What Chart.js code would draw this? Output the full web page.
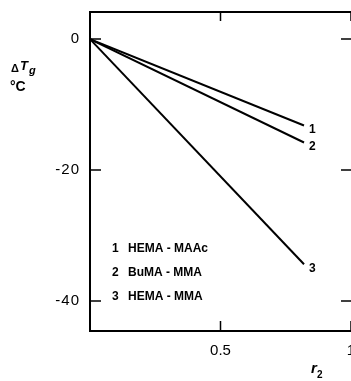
<!DOCTYPE html>
<html>
<head>
<meta charset="utf-8">
<script src="https://cdn.jsdelivr.net/npm/chart.js@4"></script>
<style>
  html, body { margin: 0; padding: 0; background: #fff; }
  #wrap { width: 351px; height: 381px; }
</style>
</head>
<body>
<div id="wrap"><canvas id="chart" width="351" height="381"></canvas></div>
<script>
// values
const xValues = [0, 0.82];
const hemaMaac = [0, -13.2];   // curve 1
const bumaMma = [0, -15.8];    // curve 2
const hemaMma = [0, -34.4];    // curve 3
const curveNumbers = ["1", "2", "3"];
const curveNames = ["HEMA - MAAc", "BuMA - MMA", "HEMA - MMA"];
const yTicks = [0, -20, -40];
const xTicks = [0.5, 1];

const toPoints = (ys) => ys.map((y, i) => ({ x: xValues[i], y: y }));

// draws the framed axes, inward ticks, labels and the numbered key
const axesPlugin = {
  id: "axes",
  afterDraw(chart) {
    const ctx = chart.ctx;
    const a = chart.chartArea;
    const xs = chart.scales.x;
    const ys = chart.scales.y;
    ctx.save();
    ctx.strokeStyle = "#000";
    ctx.fillStyle = "#000";
    ctx.lineWidth = 2;
    ctx.beginPath();
    ctx.moveTo(a.right, a.top);
    ctx.lineTo(a.left, a.top);
    ctx.lineTo(a.left, a.bottom);
    ctx.lineTo(a.right, a.bottom);
    ctx.stroke();

    ctx.lineWidth = 1.5;
    ctx.font = "15px 'Liberation Sans', Arial, sans-serif";
    ctx.textBaseline = "middle";
    yTicks.forEach((v) => {
      const py = ys.getPixelForValue(v);
      ctx.beginPath();
      ctx.moveTo(a.left, py);
      ctx.lineTo(a.left + 11, py);
      ctx.moveTo(a.right, py);
      ctx.lineTo(a.right - 10, py);
      ctx.stroke();
      ctx.textAlign = "right";
      const txt = v < 0 ? "-" + Math.abs(v) : String(v);
      ctx.letterSpacing = "1px";
      ctx.fillText(txt, a.left - 10, py);
    });
    ctx.textBaseline = "top";
    xTicks.forEach((v) => {
      const px = xs.getPixelForValue(v);
      ctx.beginPath();
      ctx.moveTo(px, a.bottom);
      ctx.lineTo(px, a.bottom - 10);
      ctx.moveTo(px, a.top);
      ctx.lineTo(px, a.top + 9);
      ctx.stroke();
      ctx.textAlign = "center";
      ctx.letterSpacing = "0px";
      ctx.fillText(String(v), px, a.bottom + 12);
    });

    // axis titles
    ctx.font = "bold 11px 'Liberation Sans', Arial, sans-serif";
    ctx.textAlign = "left";
    ctx.textBaseline = "alphabetic";
    ctx.fillText("\u0394", 11, 72);
    ctx.font = "italic bold 13px 'Liberation Sans', Arial, sans-serif";
    ctx.fillText("T", 20, 70);
    ctx.font = "italic bold 11px 'Liberation Sans', Arial, sans-serif";
    ctx.fillText("g", 29, 74);
    ctx.font = "bold 14px 'Liberation Sans', Arial, sans-serif";
    ctx.fillText("\u00b0C", 10, 91);
    ctx.font = "italic bold 15px 'Liberation Sans', Arial, sans-serif";
    ctx.fillText("r", 311, 373);
    ctx.font = "bold 10px 'Liberation Sans', Arial, sans-serif";
    ctx.fillText("2", 317, 378);

    // numbers at the curve ends
    ctx.font = "bold 12px 'Liberation Sans Narrow', 'Liberation Sans', sans-serif";
    ctx.textBaseline = "middle";
    chart.data.datasets.forEach((ds, i) => {
      const last = ds.data[ds.data.length - 1];
      const px = xs.getPixelForValue(last.x);
      const py = ys.getPixelForValue(last.y);
      ctx.fillText(curveNumbers[i], px + 5, py + 4);
    });

    // key
    ctx.font = "bold 12px 'Liberation Sans', Arial, sans-serif";
    const rows = [249, 273, 297];
    curveNames.forEach((name, i) => {
      ctx.fillText(curveNumbers[i], 112, rows[i]);
      ctx.fillText(name, 128, rows[i]);
    });
    ctx.restore();
  }
};

new Chart(document.getElementById("chart"), {
  type: "line",
  data: {
    datasets: [
      { label: curveNames[0], data: toPoints(hemaMaac) },
      { label: curveNames[1], data: toPoints(bumaMma) },
      { label: curveNames[2], data: toPoints(hemaMma) }
    ].map((d) => Object.assign(d, {
      borderColor: "#000",
      borderWidth: 2,
      pointRadius: 0,
      fill: false,
      tension: 0
    }))
  },
  options: {
    responsive: false,
    animation: false,
    layout: { padding: { left: 90, top: 12, right: 0, bottom: 50 } },
    plugins: { legend: { display: false }, tooltip: { enabled: false } },
    scales: {
      x: { type: "linear", min: 0, max: 1, display: false },
      y: { type: "linear", min: -44.6, max: 4.14, display: false }
    }
  },
  plugins: [axesPlugin]
});
</script>
</body>
</html>
